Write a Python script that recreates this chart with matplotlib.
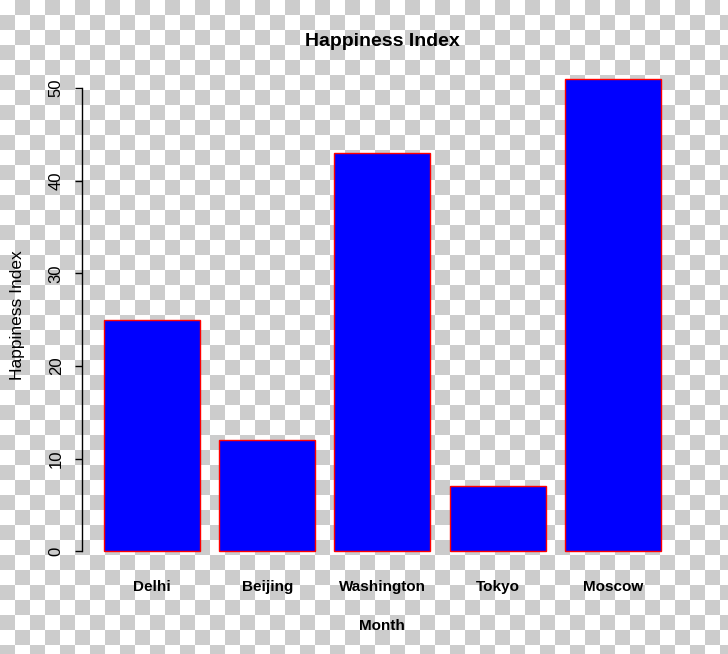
import numpy as np
import matplotlib
matplotlib.use("Agg")
import matplotlib.pyplot as plt

plt.rcParams['font.family'] = ['Liberation Sans', 'DejaVu Sans']

# ---------------------------
# Data
# ---------------------------
cities = ["Delhi", "Beijing", "Washington", "Tokyo", "Moscow"]
happiness = [25, 12, 43, 7, 51]
y_ticks = [0, 10, 20, 30, 40, 50]

W, H = 728, 654
fig = plt.figure(figsize=(W / 100, H / 100), dpi=100)

# checkered "transparent" backdrop
bg = fig.add_axes([0, 0, 1, 1])
rows, cols = np.indices((H, W)) // 15
checker = np.where((rows + cols) % 2 == 1, 0.8, 1.0)
bg.imshow(checker, cmap='gray', vmin=0, vmax=1, aspect='auto',
          interpolation='nearest', extent=[0, W, H, 0])
bg.set_axis_off()

# plot region in pixels: x 81.7..683, y 60..570
left, right, top, bottom = 81.7, 683, 60, 570
ax = fig.add_axes([left / W, 1 - bottom / H, (right - left) / W, (bottom - top) / H])
ax.patch.set_alpha(0)

# R barplot layout: width 1, space 0.2
xpos = [0.2 + 1.2 * i + 0.5 for i in range(len(cities))]
ax.bar(xpos, happiness, width=1.0, color='#0000ff', edgecolor='#ff0000', linewidth=1)

span = xpos[-1] + 0.5 - 0.2
ax.set_xlim(0.2 - 0.04 * span, xpos[-1] + 0.5 + 0.04 * span)
ymax = max(happiness)
ax.set_ylim(-0.04 * ymax, ymax * 1.04)

for s in ['top', 'right', 'bottom']:
    ax.spines[s].set_visible(False)
ax.spines['left'].set_bounds(0, 50)
ax.spines['left'].set_linewidth(1)

ax.set_yticks(y_ticks)
ax.set_yticklabels([str(v) for v in y_ticks], rotation=90, va='center', fontsize=12)
ax.tick_params(axis='y', length=5, width=1, pad=8)

ax.set_xticks(xpos)
ax.set_xticklabels(cities, fontweight='bold', fontsize=11)
ax.tick_params(axis='x', length=0, pad=7)

ax.set_title("Happiness Index", fontweight='bold', fontsize=14, pad=10)
ax.set_xlabel("Month", fontweight='bold', fontsize=11, labelpad=18)
ax.set_ylabel("Happiness Index", fontsize=12.5, labelpad=17)

fig.savefig("out.png", dpi=100)
